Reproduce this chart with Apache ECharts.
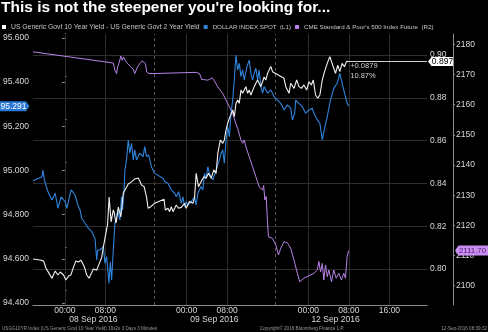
<!DOCTYPE html>
<html><head><meta charset="utf-8">
<script src="https://cdn.jsdelivr.net/npm/echarts@6/dist/echarts.min.js"></script>
<style>html,body{margin:0;padding:0;background:#000}#c{width:488px;height:332px}</style>
</head><body><div id="c"></div>
<script>
const TITLE = "This is not the steepener you're looking for...";
const NAME_SPREAD = "US Generic Govt 10 Year Yield - US Generic Govt 2 Year Yield";
const NAME_DOLLAR = "DOLLAR INDEX SPOT  (L1)";
const NAME_SPX = "CME Standard & Poor's 500 Index Future  (R2)";
const FOOTER_LEFT = "USGG10YR Index (US Generic Govt 10 Year Yield) 10s2s 3 Days 3 Minutes";
const FOOTER_MID = "Copyright\u00a9 2016 Bloomberg Finance L.P.";
const FOOTER_RIGHT = "12-Sep-2016 08:39:32";
const CHANGE_LABELS = ["+0.0879", "10.87%"];

// x in hours since 08 Sep 2016 00:00 (trading time, weekend compressed)
const X_MIN = -6.28, X_MAX = 71.4;
const HOUR_TICKS = [0, 8, 24, 32, 48, 56, 64];
const HOUR_LABELS = ["00:00", "08:00", "00:00", "08:00", "00:00", "08:00", "16:00"];
const DATE_POS = [5.63, 29.48, 53.36];
const DATE_LABELS = ["08 Sep 2016", "09 Sep 2016", "12 Sep 2016"];
const SESSION_BREAKS = [17.6, 41.5];

const L1_TICKS = [94.4, 94.6, 94.8, 95.0, 95.2, 95.4, 95.6];
const MID_TICKS = [0.80, 0.82, 0.84, 0.86, 0.88, 0.90];
const MID_MINOR = [0.79, 0.81, 0.83, 0.85, 0.87, 0.89];
const R2_TICKS = [2100, 2110, 2120, 2130, 2140, 2150, 2160, 2170, 2180];

// 10s2s spread (middle axis)
const spread = [[-6.28,0.8047],[-4.85,0.8042],[-4.18,0.8037],[-3.73,0.8005],[-3.14,0.7981],[-2.55,0.7957],[-1.90,0.7991],[-1.37,0.7972],[-0.92,0.7986],[-0.26,0.7972],[0.20,0.7949],[0.73,0.7967],[1.18,0.7972],[1.71,0.8009],[2.16,0.8037],[2.69,0.8033],[3.14,0.8042],[3.47,0.8028],[3.86,0.8009],[4.32,0.7972],[4.77,0.7957],[5.16,0.7977],[5.63,0.8000],[5.94,0.8003],[6.28,0.7995],[6.73,0.8023],[7.26,0.8054],[7.59,0.8103],[7.91,0.8144],[8.43,0.8210],[8.73,0.8336],[9.12,0.8220],[9.55,0.8276],[9.75,0.8262],[10.06,0.8215],[10.20,0.8229],[10.53,0.8290],[11.04,0.8244],[11.18,0.8276],[11.51,0.8354],[11.87,0.8360],[12.50,0.8397],[13.14,0.8407],[13.79,0.8421],[14.46,0.8425],[14.77,0.8411],[15.10,0.8393],[15.63,0.8385],[16.09,0.8338],[16.42,0.8284],[16.93,0.8291],[17.71,0.8307],[19.56,0.8326],[19.81,0.8276],[20.34,0.8284],[20.66,0.8268],[20.99,0.8291],[21.32,0.8268],[21.97,0.8299],[22.42,0.8284],[22.95,0.8288],[23.60,0.8307],[23.93,0.8284],[24.58,0.8315],[25.25,0.8307],[25.56,0.8330],[25.89,0.8447],[26.34,0.8385],[26.87,0.8408],[27.40,0.8431],[27.85,0.8424],[28.31,0.8447],[28.84,0.8424],[29.37,0.8463],[29.82,0.8447],[30.15,0.8540],[30.66,0.8603],[31.13,0.8587],[31.44,0.8603],[31.78,0.8650],[32.11,0.8681],[32.43,0.8704],[32.76,0.8696],[33.09,0.8743],[33.41,0.8712],[33.74,0.8774],[34.07,0.8790],[34.39,0.8774],[34.72,0.8836],[35.05,0.8821],[35.37,0.8836],[35.70,0.8852],[36.03,0.8821],[36.35,0.8836],[36.68,0.8813],[37.02,0.8821],[37.33,0.8852],[37.66,0.8868],[38.00,0.8883],[38.64,0.8852],[38.98,0.8875],[39.29,0.8897],[39.62,0.8883],[39.96,0.8914],[40.27,0.8930],[40.61,0.8946],[40.94,0.8922],[41.25,0.8930],[43.21,0.8891],[43.55,0.8852],[44.20,0.8821],[44.53,0.8868],[45.18,0.8844],[45.71,0.8883],[46.16,0.8852],[46.63,0.8844],[47.14,0.8860],[47.67,0.8836],[48.12,0.8875],[48.59,0.8860],[48.98,0.8883],[49.43,0.8813],[49.88,0.8798],[50.28,0.8813],[50.75,0.8883],[51.20,0.8922],[51.73,0.8961],[52.24,0.8992],[52.51,0.8985],[52.91,0.8945],[53.36,0.8914],[53.81,0.8953],[54.20,0.8922],[54.67,0.8961],[55.12,0.8945],[55.51,0.8969],[55.97,0.8970]];

// Dollar index spot (left axis L1)
const dollar = [[-6.28,94.954],[-5.16,94.965],[-4.51,94.972],[-4.32,95.002],[-4.06,94.960],[-3.67,94.927],[-3.20,94.897],[-2.55,94.866],[-1.90,94.897],[-1.37,94.829],[-0.73,94.881],[0.06,94.859],[0.39,94.829],[1.24,94.912],[2.02,94.889],[2.55,94.844],[3.00,94.821],[3.33,94.784],[3.98,94.761],[4.65,94.738],[5.30,94.723],[5.94,94.693],[6.28,94.595],[6.47,94.640],[6.92,94.640],[7.59,94.655],[7.91,94.580],[8.24,94.610],[8.69,94.489],[8.96,94.586],[9.22,94.504],[9.55,94.640],[9.87,94.761],[10.20,94.791],[10.40,94.821],[10.85,94.776],[11.18,94.881],[11.38,94.821],[11.71,94.927],[11.83,95.002],[12.16,95.048],[12.50,95.138],[12.81,95.078],[13.14,95.123],[13.48,95.048],[13.79,95.093],[14.12,95.048],[14.77,95.078],[15.44,95.063],[15.75,95.108],[16.09,95.063],[16.54,95.070],[17.07,95.017],[17.71,94.987],[19.36,94.965],[19.68,94.949],[20.34,94.942],[20.99,94.912],[21.64,94.897],[21.97,94.881],[22.42,94.904],[22.95,94.851],[23.28,94.881],[23.60,94.836],[23.93,94.859],[24.27,94.844],[24.91,94.859],[25.56,94.881],[25.89,94.844],[26.23,94.897],[26.87,94.927],[27.21,94.912],[27.52,94.987],[27.85,94.965],[28.19,95.017],[28.50,94.987],[28.84,94.972],[29.17,94.957],[29.48,94.957],[29.82,95.002],[30.01,94.993],[30.46,95.048],[30.80,95.078],[31.13,95.093],[31.44,95.033],[31.78,95.138],[32.11,95.198],[32.43,95.153],[32.76,95.259],[33.09,95.319],[33.41,95.410],[33.74,95.523],[34.07,95.455],[34.39,95.485],[34.72,95.425],[35.05,95.455],[35.37,95.410],[35.90,95.470],[36.35,95.500],[36.68,95.440],[37.02,95.410],[37.33,95.440],[37.66,95.463],[38.00,95.410],[38.31,95.455],[38.64,95.380],[38.98,95.350],[39.29,95.380],[39.96,95.350],[40.61,95.365],[41.25,95.334],[41.92,95.319],[42.57,95.304],[43.21,95.274],[43.88,95.297],[44.53,95.282],[44.86,95.229],[45.31,95.259],[45.51,95.319],[46.16,95.304],[46.82,95.289],[47.47,95.259],[48.12,95.274],[48.79,95.282],[49.10,95.259],[49.77,95.229],[50.28,95.214],[50.75,95.138],[51.06,95.176],[51.73,95.244],[52.37,95.319],[53.02,95.372],[53.69,95.395],[54.20,95.440],[54.67,95.395],[54.98,95.365],[55.32,95.334],[55.65,95.304],[55.97,95.291]];

// S&P 500 future (right axis R2)
const spx = [[-6.28,2177.5],[9.55,2173.8],[9.87,2171.4],[10.20,2170.3],[10.40,2172.5],[10.65,2173.6],[11.04,2176.1],[11.32,2174.7],[11.57,2175.8],[11.97,2174.5],[12.36,2173.6],[12.89,2172.8],[13.48,2171.7],[13.79,2170.3],[14.32,2172.5],[14.77,2173.6],[15.24,2174.5],[15.63,2174.7],[15.89,2173.6],[16.14,2170.9],[16.54,2170.3],[17.40,2170.3],[25.89,2170.7],[26.54,2170.3],[27.01,2168.3],[27.52,2168.3],[28.05,2168.1],[28.50,2168.3],[29.03,2168.9],[29.48,2167.9],[30.15,2165.9],[31.13,2163.7],[31.78,2161.5],[32.42,2159.3],[33.09,2157.1],[33.60,2154.3],[34.07,2152.1],[34.72,2148.3],[35.05,2147.2],[35.37,2148.3],[35.70,2146.0],[36.35,2142.7],[37.01,2139.4],[37.66,2136.1],[38.31,2132.8],[38.98,2131.7],[39.20,2133.2],[39.43,2128.4],[39.70,2129.6],[39.96,2120.7],[40.15,2116.2],[40.94,2115.7],[41.59,2113.5],[42.12,2110.2],[42.57,2112.4],[43.21,2114.6],[43.88,2114.2],[44.53,2112.4],[45.18,2108.5],[45.84,2104.1],[46.29,2101.3],[47.14,2102.5],[49.10,2104.1],[49.77,2105.2],[50.08,2108.0],[50.41,2104.6],[50.75,2107.4],[51.06,2101.9],[51.39,2106.9],[51.73,2103.0],[52.04,2105.2],[52.57,2101.3],[53.02,2105.2],[53.49,2102.5],[54.00,2104.1],[54.53,2101.9],[54.98,2104.1],[55.32,2102.5],[55.65,2109.6],[55.97,2111.7]];

const FONT = "Liberation Sans";
const C_WHITE = "#f2f2f2", C_BLUE = "#2f84dc", C_PURPLE = "#b883e6";
const AX = "#8a8a8a", LBL = "#d8d8d8", GRIDC = "#2e2e2e";

const chart = echarts.init(document.getElementById("c"), null, {renderer: "canvas"});
const near = (arr, v) => { let b = 0; arr.forEach((a, i) => { if (Math.abs(a - v) < Math.abs(arr[b] - v)) b = i; }); return b; };

const lastSpread = spread[spread.length - 1];
const lastDollar = dollar[dollar.length - 1];
const lastSpx = spx[spx.length - 1];

const option = {
  backgroundColor: "#000",
  animation: false,
  title: { text: TITLE, left: 1, top: 0, padding: 0,
    textStyle: { color: "#fff", fontSize: 15.5, fontWeight: "bold", fontFamily: FONT } },
  legend: { left: 2, top: 23.5, padding: 0, icon: "rect", itemWidth: 4, itemHeight: 4, itemGap: 4,
    textStyle: { color: "#c8c8c8", fontSize: 6.8, fontFamily: FONT },
    data: [
      { name: NAME_SPREAD },
      { name: NAME_DOLLAR, textStyle: { fontSize: 6.2 } },
      { name: NAME_SPX, textStyle: { fontSize: 6.2 } }
    ] },
  grid: { left: 31, right: 61, top: 34, bottom: 27 },
  xAxis: [
    { type: "value", min: X_MIN, max: X_MAX, position: "bottom",
      axisLine: { lineStyle: { color: AX } }, axisTick: { show: false }, splitLine: { show: false },
      axisLabel: { customValues: HOUR_TICKS, margin: 1, color: LBL, fontSize: 8.5, fontFamily: FONT,
        formatter: v => HOUR_LABELS[near(HOUR_TICKS, v)] } },
    { type: "value", min: X_MIN, max: X_MAX, position: "bottom", offset: 9,
      axisLine: { show: false }, axisTick: { show: false }, splitLine: { show: false },
      axisLabel: { customValues: DATE_POS, margin: 1, color: LBL, fontSize: 8.5, fontFamily: FONT,
        formatter: v => DATE_LABELS[near(DATE_POS, v)] } }
  ],
  yAxis: [
    { type: "value", min: 94.391, max: 95.618, position: "left",
      axisLine: { show: true, lineStyle: { color: AX } },
      axisTick: { show: true, customValues: L1_TICKS, length: 3, lineStyle: { color: AX } },
      splitLine: { show: false },
      axisLabel: { customValues: L1_TICKS, margin: 4, color: LBL, fontSize: 8.5, fontFamily: FONT,
        formatter: v => v.toFixed(3) } },
    { type: "value", min: 0.7832, max: 0.9098, position: "right", offset: 0,
      axisLine: { show: true, lineStyle: { color: AX } },
      axisTick: { show: true, customValues: MID_TICKS.concat(MID_MINOR), length: 2, lineStyle: { color: AX } },
      splitLine: { show: false },
      axisLabel: { customValues: MID_TICKS, margin: 3, color: LBL, fontSize: 8.5, fontFamily: FONT,
        formatter: v => v.toFixed(2) } },
    { type: "value", min: 2093.61, max: 2183.41, position: "right", offset: 26,
      axisLine: { show: true, lineStyle: { color: AX } },
      axisTick: { show: true, customValues: R2_TICKS, length: 2, lineStyle: { color: AX } },
      splitLine: { show: false },
      axisLabel: { customValues: R2_TICKS, margin: 3, color: LBL, fontSize: 8.5, fontFamily: FONT,
        formatter: v => String(v) } }
  ],
  series: [
    { name: NAME_SPX, type: "line", xAxisIndex: 0, yAxisIndex: 2, data: spx, showSymbol: false,
      lineStyle: { color: C_PURPLE, width: 1 }, itemStyle: { color: C_PURPLE },
      markLine: { silent: true, symbol: "none", z: 1, label: { show: false }, animation: false,
        data: HOUR_TICKS.map(h => ({ xAxis: h, lineStyle: { color: GRIDC, width: 1, type: "solid" } }))
          .concat(SESSION_BREAKS.map(h => ({ xAxis: h, lineStyle: { color: "#5a5a5a", width: 1, type: [3, 3] } }))) } },
    { name: NAME_DOLLAR, type: "line", xAxisIndex: 0, yAxisIndex: 0, data: dollar, showSymbol: false,
      lineStyle: { color: C_BLUE, width: 1.1 }, itemStyle: { color: C_BLUE } },
    { name: NAME_SPREAD, type: "line", xAxisIndex: 0, yAxisIndex: 1, data: spread, showSymbol: false,
      lineStyle: { color: C_WHITE, width: 1.1 }, itemStyle: { color: "#ffffff" },
      markLine: { silent: true, symbol: "none", z: 1, label: { show: false }, animation: false,
        data: MID_TICKS.map(v => ({ yAxis: v, lineStyle: { color: GRIDC, width: 1, type: "solid" } }))
          .concat([[{ coord: lastSpread, lineStyle: { color: "#cfcfcf", width: 1, type: "solid" } }, { coord: [X_MAX, lastSpread[1]] }]]) } }
  ]
};
chart.setOption(option);

const yB = chart.convertToPixel({ yAxisIndex: 0 }, lastDollar[1]);
const yW = chart.convertToPixel({ yAxisIndex: 1 }, lastSpread[1]);
const yP = chart.convertToPixel({ yAxisIndex: 2 }, lastSpx[1]);
const endPt = chart.convertToPixel({ xAxisIndex: 0, yAxisIndex: 1 }, lastSpread);

const tag = (pts, fill, text, tx, y, tcolor, fs) => ({
  type: "group", z: 100, children: [
    { type: "polygon", z: 100, shape: { points: pts }, style: { fill: fill } },
    { type: "text", z: 101, x: tx, y: y, style: { text: text, fill: tcolor, fontSize: fs, fontFamily: FONT, align: "center", verticalAlign: "middle" } }
  ] });

chart.setOption({ graphic: [
  tag([[0, yB - 5], [26, yB - 5], [29.5, yB], [26, yB + 5], [0, yB + 5]], "#2b78d4", lastDollar[1].toFixed(3), 13.5, yB + 0.5, "#ffffff", 8.5),
  tag([[428, yW], [431.5, yW - 4.5], [453, yW - 4.5], [453, yW + 4.5], [431.5, yW + 4.5]], "#ffffff", lastSpread[1].toFixed(3), 442.5, yW + 0.5, "#000000", 8.5),
  tag([[455, yP], [458.5, yP - 5], [488, yP - 5], [488, yP + 5], [458.5, yP + 5]], "#c98ef2", lastSpx[1].toFixed(2), 472.5, yP + 0.5, "#4a1a70", 7.8),
  { type: "text", x: endPt[0] + 1.5, y: endPt[1] + 4.5, style: { text: CHANGE_LABELS[0], fill: "#d0d0d0", fontSize: 7.5, fontFamily: FONT, verticalAlign: "middle" } },
  { type: "text", x: endPt[0] + 1.5, y: endPt[1] + 14.5, style: { text: CHANGE_LABELS[1], fill: "#d0d0d0", fontSize: 7.5, fontFamily: FONT, verticalAlign: "middle" } },
  { type: "text", x: 2, y: 329, style: { text: FOOTER_LEFT, fill: "#9a9a9a", fontSize: 4.6, fontFamily: FONT, verticalAlign: "middle" } },
  { type: "text", x: 302, y: 329, style: { text: FOOTER_MID, fill: "#9a9a9a", fontSize: 4.6, fontFamily: FONT, align: "center", verticalAlign: "middle" } },
  { type: "text", x: 487, y: 329, style: { text: FOOTER_RIGHT, fill: "#9a9a9a", fontSize: 4.6, fontFamily: FONT, align: "right", verticalAlign: "middle" } }
] });
</script></body></html>
